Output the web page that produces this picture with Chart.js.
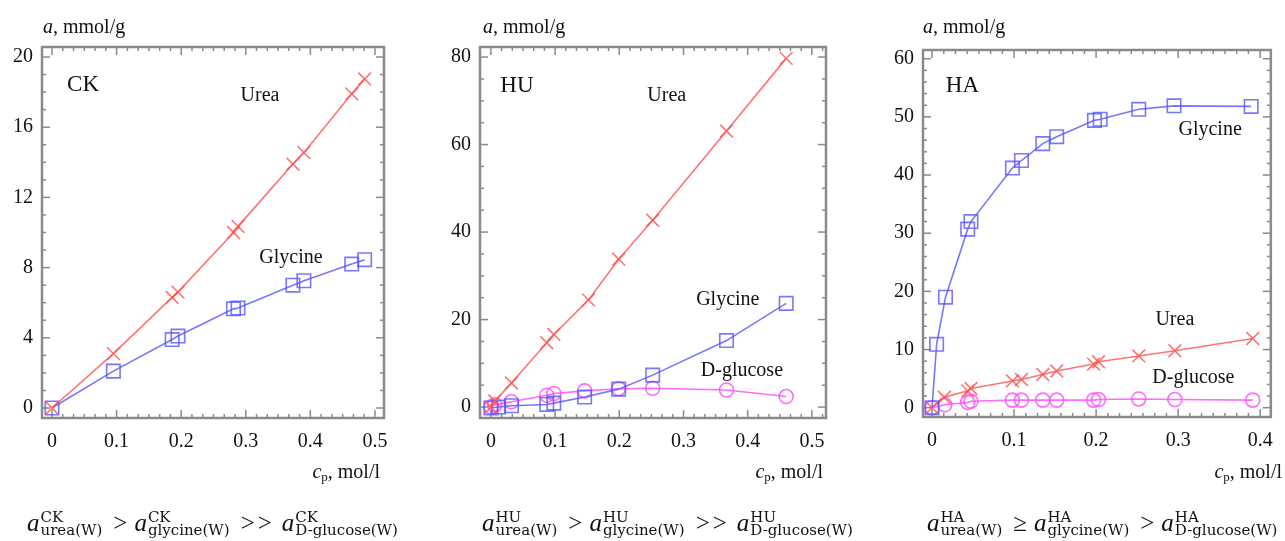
<!DOCTYPE html>
<html>
<head>
<meta charset="utf-8">
<script src="https://cdn.jsdelivr.net/npm/chart.js@4"></script>
<style>
  html, body { margin: 0; padding: 0; background: #fff; }
  #page { position: relative; width: 1285px; height: 541px; overflow: hidden;
          font-family: 'Liberation Serif', serif; color: #111; }
  canvas { position: absolute; top: 0; }
  .ytitle, .xtitle { position: absolute; font-size: 20px; line-height: 24px; white-space: nowrap; }
  .xtitle sub { font-size: 13px; vertical-align: -3px; line-height: 0; }
  .formula { position: absolute; top: 508px; font-size: 25px; line-height: 30px; white-space: nowrap; }
  .formula .ss { display: inline-block; font-family: 'DejaVu Serif', serif; font-size: 15px;
                 line-height: 13px; vertical-align: -4px; margin-left: 1px; }
  .formula .op { margin: 0 7px 0 11px; }
  .formula .op2 { letter-spacing: 3px; }
</style>
</head>
<body>
<div id="page">
  <canvas id="ck" width="430" height="541" style="left:0"></canvas>
  <canvas id="hu" width="430" height="541" style="left:430px"></canvas>
  <canvas id="ha" width="425" height="541" style="left:860px"></canvas>

  <div class="ytitle" style="left:43px; top:14px"><i>a</i>, mmol/g</div>
  <div class="ytitle" style="left:483px; top:14px"><i>a</i>, mmol/g</div>
  <div class="ytitle" style="left:923px; top:14px"><i>a</i>, mmol/g</div>

  <div class="xtitle" style="right:905px; top:459px"><i>c</i><sub>p</sub>, mol/l</div>
  <div class="xtitle" style="right:462px; top:459px"><i>c</i><sub>p</sub>, mol/l</div>
  <div class="xtitle" style="right:3px; top:459px"><i>c</i><sub>p</sub>, mol/l</div>

  <div class="formula" style="left:27px"><i>a</i><span class="ss">CK<br>urea(W)</span><span class="op">&gt;</span><i>a</i><span class="ss">CK<br>glycine(W)</span><span class="op op2">&gt;&gt;</span><i>a</i><span class="ss">CK<br>D-glucose(W)</span></div>
  <div class="formula" style="left:482px"><i>a</i><span class="ss">HU<br>urea(W)</span><span class="op">&gt;</span><i>a</i><span class="ss">HU<br>glycine(W)</span><span class="op op2">&gt;&gt;</span><i>a</i><span class="ss">HU<br>D-glucose(W)</span></div>
  <div class="formula" style="left:927px"><i>a</i><span class="ss">HA<br>urea(W)</span><span class="op">&ge;</span><i>a</i><span class="ss">HA<br>glycine(W)</span><span class="op">&gt;</span><i>a</i><span class="ss">HA<br>D-glucose(W)</span></div>
</div>

<script>
// ---- CK sorbent ----
const ckUreaCp = [0.0, 0.095, 0.186, 0.195, 0.281, 0.288, 0.373, 0.39, 0.464, 0.484];
const ckUreaA  = [0.0, 3.1, 6.3, 6.6, 10.0, 10.35, 13.9, 14.55, 17.9, 18.75];
const ckGlyCp  = [0.0, 0.095, 0.186, 0.195, 0.281, 0.288, 0.373, 0.39, 0.464, 0.484];
const ckGlyA   = [0.0, 2.1, 3.9, 4.1, 5.65, 5.7, 7.0, 7.25, 8.2, 8.45];
const ckXTicks = [0, 0.1, 0.2, 0.3, 0.4, 0.5];
const ckYTicks = [0, 4, 8, 12, 16, 20];

// ---- HU sorbent ----
const huUreaCp = [0.0, 0.006, 0.032, 0.087, 0.098, 0.152, 0.199, 0.252, 0.367, 0.46];
const huUreaA  = [0.0, 1.4, 5.5, 14.7, 16.6, 24.5, 33.8, 42.7, 63.1, 79.7];
const huGlyCp  = [0.0, 0.012, 0.032, 0.087, 0.098, 0.146, 0.199, 0.252, 0.367, 0.46];
const huGlyA   = [-0.2, 0.0, 0.3, 0.6, 0.9, 2.3, 4.1, 7.3, 15.2, 23.7];
const huGluCp  = [0.0, 0.006, 0.032, 0.087, 0.098, 0.146, 0.199, 0.252, 0.367, 0.46];
const huGluA   = [0.0, 0.5, 1.2, 2.7, 3.1, 3.7, 4.2, 4.3, 3.9, 2.4];
const huXTicks = [0, 0.1, 0.2, 0.3, 0.4, 0.5];
const huYTicks = [0, 20, 40, 60, 80];

// ---- HA sorbent ----
const haGlyCp  = [0.0, 0.0056, 0.0164, 0.0435, 0.0475, 0.098, 0.109, 0.135, 0.152, 0.198, 0.205, 0.252, 0.295, 0.389];
const haGlyA   = [0.0, 10.9, 19.0, 30.7, 32.0, 41.2, 42.5, 45.4, 46.6, 49.4, 49.6, 51.3, 51.9, 51.8];
const haUreaCp = [0.0, 0.015, 0.0435, 0.0475, 0.098, 0.109, 0.135, 0.152, 0.197, 0.203, 0.252, 0.296, 0.391];
const haUreaA  = [0.0, 1.8, 2.9, 3.3, 4.6, 4.85, 5.7, 6.3, 7.5, 7.9, 8.9, 9.8, 11.9];
const haGluCp  = [0.0, 0.0156, 0.0435, 0.0475, 0.098, 0.109, 0.135, 0.152, 0.197, 0.203, 0.252, 0.296, 0.391];
const haGluA   = [0.0, 0.5, 0.9, 1.1, 1.3, 1.3, 1.3, 1.3, 1.3, 1.4, 1.5, 1.4, 1.3];
const haXTicks = [0, 0.1, 0.2, 0.3, 0.4];
const haYTicks = [0, 10, 20, 30, 40, 50, 60];

// series styles
const UREA = { color: 'rgba(255, 80, 80, 0.8)', marker: 'crossRot', radius: 9 };
const GLY  = { color: 'rgba(85, 85, 255, 0.8)', marker: 'rect', radius: 9.5 };
const GLU  = { color: 'rgba(255, 70, 255, 0.8)', marker: 'circle', radius: 7 };

const FRAME = '#8a8a8a';
const FONT = "'Liberation Serif', serif";

// inward ticks on all four sides + box
const frameTicks = {
    id: 'frameTicks',
    beforeDatasetsDraw(chart, args, opts) {
        const { ctx, chartArea: a, scales: { x, y } } = chart;
        const line = (x1, y1, x2, y2) => { ctx.beginPath(); ctx.moveTo(x1, y1); ctx.lineTo(x2, y2); ctx.stroke(); };
        const isMajor = (v, majors) => majors.some(m => Math.abs(m - v) < 1e-9);
        ctx.save();
        ctx.strokeStyle = FRAME;
        ctx.lineWidth = 1.5;
        const xMajors = x.ticks.map(t => t.value);
        const yMajors = y.ticks.map(t => t.value);
        for (let i = Math.ceil(x.min / opts.xMinor); i * opts.xMinor <= x.max; i++) {
            const v = i * opts.xMinor;
            const len = isMajor(v, xMajors) ? 8 : 4;
            const px = x.getPixelForValue(v);
            line(px, a.bottom, px, a.bottom - len);
            line(px, a.top, px, a.top + len);
        }
        for (let i = Math.ceil(y.min / opts.yMinor); i * opts.yMinor <= y.max; i++) {
            const v = i * opts.yMinor;
            const len = isMajor(v, yMajors) ? 8 : 4;
            const py = y.getPixelForValue(v);
            line(a.left, py, a.left + len, py);
            line(a.right, py, a.right - len, py);
        }
        ctx.lineWidth = 2.5;
        ctx.strokeRect(a.left, a.top, a.right - a.left, a.bottom - a.top);
        ctx.restore();
    }
};

// text labels placed in data coordinates
const plotLabels = {
    id: 'plotLabels',
    afterDatasetsDraw(chart, args, opts) {
        const { ctx, scales: { x, y } } = chart;
        ctx.save();
        ctx.fillStyle = '#111';
        ctx.textAlign = 'center';
        ctx.textBaseline = 'middle';
        opts.items.forEach(it => {
            ctx.font = it.size + 'px ' + FONT;
            ctx.fillText(it.text, x.getPixelForValue(it.x), y.getPixelForValue(it.y));
        });
        ctx.restore();
    }
};

function buildPanel(id, cfg) {
    const tickFont = { family: FONT, size: 20 };
    new Chart(document.getElementById(id), {
        type: 'scatter',
        data: {
            datasets: cfg.series.map(s => ({
                data: s.cp.map((c, i) => ({ x: c, y: s.a[i] })),
                showLine: true,
                tension: 0,
                borderColor: s.style.color,
                borderWidth: 1.6,
                backgroundColor: 'transparent',
                pointStyle: s.style.marker,
                pointRadius: s.style.radius,
                pointBorderWidth: 1.6,
                pointBorderColor: s.style.color,
                pointBackgroundColor: 'transparent',
                clip: false
            }))
        },
        options: {
            responsive: false,
            animation: false,
            events: [],
            layout: { padding: { left: 0, top: cfg.top, right: cfg.right, bottom: 541 - cfg.bottom - 40 } },
            plugins: {
                legend: { display: false },
                tooltip: { enabled: false },
                frameTicks: { xMinor: cfg.xMinor, yMinor: cfg.yMinor },
                plotLabels: { items: cfg.labels }
            },
            scales: {
                x: {
                    type: 'linear',
                    min: cfg.xRange[0], max: cfg.xRange[1],
                    afterBuildTicks: s => { s.ticks = cfg.xTicks.map(v => ({ value: v })); },
                    afterFit: s => { s.height = 40; },
                    grid: { display: false, drawTicks: false },
                    border: { display: false },
                    ticks: { font: tickFont, color: '#111', padding: 12, maxRotation: 0, autoSkip: false,
                             callback: v => String(v) }
                },
                y: {
                    type: 'linear',
                    min: cfg.yRange[0], max: cfg.yRange[1],
                    afterBuildTicks: s => { s.ticks = cfg.yTicks.map(v => ({ value: v })); },
                    afterFit: s => { s.width = cfg.left; },
                    grid: { display: false, drawTicks: false },
                    border: { display: false },
                    ticks: { font: tickFont, color: '#111', padding: 9, autoSkip: false,
                             callback: v => String(v) }
                }
            }
        },
        plugins: [frameTicks, plotLabels]
    });
}

buildPanel('ck', {
    left: 42, right: 46, top: 47, bottom: 418,
    xRange: [-0.0155, 0.514], yRange: [-0.57, 20.57],
    xTicks: ckXTicks, yTicks: ckYTicks, xMinor: 0.1 / 6, yMinor: 1,
    series: [
        { cp: ckUreaCp, a: ckUreaA, style: UREA },
        { cp: ckGlyCp, a: ckGlyA, style: GLY }
    ],
    labels: [
        { text: 'CK', x: 0.048, y: 18.4, size: 23 },
        { text: 'Urea', x: 0.322, y: 17.8, size: 20 },
        { text: 'Glycine', x: 0.370, y: 8.57, size: 20 }
    ]
});

buildPanel('hu', {
    left: 50, right: 34, top: 47, bottom: 418,
    xRange: [-0.017, 0.522], yRange: [-2.5, 82.3],
    xTicks: huXTicks, yTicks: huYTicks, xMinor: 0.1 / 6, yMinor: 5,
    series: [
        { cp: huUreaCp, a: huUreaA, style: UREA },
        { cp: huGlyCp, a: huGlyA, style: GLY },
        { cp: huGluCp, a: huGluA, style: GLU }
    ],
    labels: [
        { text: 'HU', x: 0.0405, y: 73.4, size: 23 },
        { text: 'Urea', x: 0.274, y: 71.1, size: 20 },
        { text: 'Glycine', x: 0.369, y: 24.5, size: 20 },
        { text: 'D-glucose', x: 0.391, y: 8.2, size: 20 }
    ]
});

buildPanel('ha', {
    left: 63, right: 8, top: 50, bottom: 417,
    xRange: [-0.011, 0.413], yRange: [-1.6, 61.5],
    xTicks: haXTicks, yTicks: haYTicks, xMinor: 0.1 / 7, yMinor: 2,
    series: [
        { cp: haGlyCp, a: haGlyA, style: GLY },
        { cp: haUreaCp, a: haUreaA, style: UREA },
        { cp: haGluCp, a: haGluA, style: GLU }
    ],
    labels: [
        { text: 'HA', x: 0.037, y: 55.3, size: 23 },
        { text: 'Glycine', x: 0.339, y: 47.8, size: 20 },
        { text: 'Urea', x: 0.296, y: 15.2, size: 20 },
        { text: 'D-glucose', x: 0.3186, y: 5.1, size: 20 }
    ]
});
</script>
</body>
</html>
